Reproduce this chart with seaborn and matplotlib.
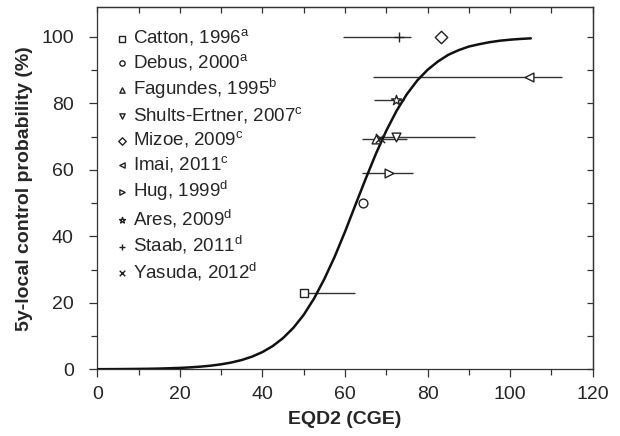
import numpy as np
import matplotlib
matplotlib.use("Agg")
import matplotlib.pyplot as plt
import seaborn as sns

# studies: label, marker, EQD2 (CGE), 5y local control (%), error bar range
studies = ["Catton, 1996$^{\\mathregular{a}}$", "Debus, 2000$^{\\mathregular{a}}$",
           "Fagundes, 1995$^{\\mathregular{b}}$", "Shults-Ertner, 2007$^{\\mathregular{c}}$",
           "Mizoe, 2009$^{\\mathregular{c}}$", "Imai, 2011$^{\\mathregular{c}}$",
           "Hug, 1999$^{\\mathregular{d}}$", "Ares, 2009$^{\\mathregular{d}}$",
           "Staab, 2011$^{\\mathregular{d}}$", "Yasuda, 2012$^{\\mathregular{d}}$"]
markers = ["s", "o", "^", "v", "D", "<", ">", "*", "+", "x"]
dose = [50.0, 64.3, 67.4, 72.3, 83.2, 104.6, 70.7, 72.3, 73.0, 68.4]
control = [23, 50, 69.4, 70, 100, 88, 59, 81, 100, 69.7]
dose_lo = [50.0, np.nan, 64.0, 68.0, np.nan, 66.8, 64.1, 66.9, 59.4, np.nan]
dose_hi = [62.4, np.nan, 75.0, 91.5, np.nan, 112.5, 76.5, 74.3, 76.1, np.nan]

# dose-response curve
curve_x = [0, 2.5, 5, 7.5, 10, 12.5, 15, 17.5, 20, 22.5, 25, 27.5, 30, 32.5, 35,
           37.5, 40, 42.5, 45, 47.5, 50, 52.5, 55, 57.5, 60, 62.5, 65, 67.5, 70,
           72.5, 75, 77.5, 80, 82.5, 85, 87.5, 90, 92.5, 95, 97.5, 100, 102.5, 105]
curve_y = [0.03, 0.05, 0.06, 0.09, 0.12, 0.16, 0.22, 0.31, 0.42, 0.58, 0.80, 1.09,
           1.50, 2.05, 2.80, 3.82, 5.19, 7.00, 9.40, 12.5, 16.4, 21.3, 27.2, 33.9,
           41.4, 49.4, 57.3, 64.9, 71.8, 77.8, 82.8, 86.9, 90.1, 92.6, 94.6, 96.0,
           97.1, 97.8, 98.4, 98.85, 99.16, 99.39, 99.56]

sns.set_style("ticks")
plt.rcParams["font.family"] = ["Liberation Sans", "DejaVu Sans"]
plt.rcParams["mathtext.fontset"] = "custom"
plt.rcParams["mathtext.rm"] = "Liberation Sans"

fig = plt.figure(figsize=(6.2, 4.36), dpi=100)
ax = fig.add_axes([0.157, 0.153, 0.799, 0.831])

sns.lineplot(x=curve_x, y=curve_y, ax=ax, color="#111111", linewidth=1.8, zorder=3)

# horizontal error bars
for lo, hi, y in zip(dose_lo, dose_hi, control):
    if not np.isnan(lo):
        ax.hlines(y, lo, hi, color="#333333", linewidth=1.0, zorder=2)

for name, m, x, y in zip(studies, markers, dose, control):
    size = 55 if m == "*" else 40
    if m in ("+", "x"):
        sns.scatterplot(x=[x], y=[y], marker=m, color="#222222", s=45,
                        linewidth=1.0, ax=ax, label=name, zorder=4)
    else:
        sns.scatterplot(x=[x], y=[y], marker=m, facecolor="white", edgecolor="#222222",
                        s=size, linewidth=1.0, ax=ax, label=name, zorder=4)

ax.legend(loc="upper left", bbox_to_anchor=(0.0, 0.99), frameon=False, fontsize=13.5,
          markerscale=0.6, handletextpad=0.2, labelspacing=0.2, handlelength=0.8,
          borderaxespad=0.5)

ax.set_xlim(0, 120)
ax.set_ylim(0, 109)
ax.set_xticks([0, 20, 40, 60, 80, 100, 120])
ax.set_yticks([0, 20, 40, 60, 80, 100])
ax.set_xticks(np.arange(0, 121, 10), minor=True)
ax.set_yticks(np.arange(0, 101, 10), minor=True)
ax.tick_params(axis="both", which="major", labelsize=14, length=6, width=0.9, color="#333333")
ax.tick_params(axis="both", which="minor", length=4, width=0.9, color="#333333")
ax.tick_params(axis="y", which="major", pad=11)
ax.tick_params(axis="x", which="major", pad=6)

# inward ticks on top and right
top = ax.secondary_xaxis("top")
top.set_xticks(np.arange(0, 121, 10))
top.tick_params(direction="in", length=4, width=0.9, labeltop=False, color="#333333")
right = ax.secondary_yaxis("right")
right.set_yticks(np.arange(0, 101, 10))
right.tick_params(direction="in", length=4, width=0.9, labelright=False, color="#333333")

for sp in list(ax.spines.values()) + [top.spines["top"], right.spines["right"]]:
    sp.set_visible(True)
    sp.set_linewidth(0.9)
    sp.set_color("#333333")

ax.set_xlabel("EQD2 (CGE)", fontsize=14, fontweight="bold", labelpad=6)
ax.set_ylabel("5y-local control probability (%)", fontsize=14, fontweight="bold", labelpad=6)

fig.savefig("out.png", dpi=100)
